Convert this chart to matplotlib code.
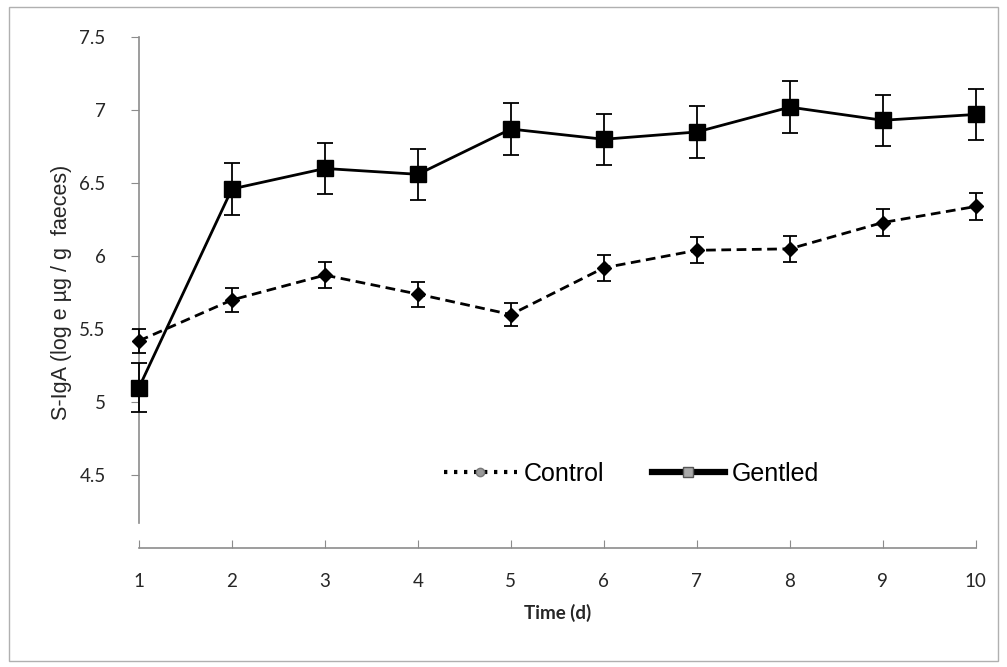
import matplotlib
matplotlib.use("Agg")
import matplotlib.pyplot as plt
from matplotlib.lines import Line2D
from matplotlib.patches import Rectangle
import numpy as np

# values
days = [1, 2, 3, 4, 5, 6, 7, 8, 9, 10]
control = [5.42, 5.70, 5.87, 5.74, 5.60, 5.92, 6.04, 6.05, 6.23, 6.34]
control_err = [0.08, 0.085, 0.09, 0.085, 0.08, 0.09, 0.09, 0.09, 0.09, 0.09]
gentled = [5.10, 6.46, 6.60, 6.56, 6.87, 6.80, 6.85, 7.02, 6.93, 6.97]
gentled_err = [0.17, 0.18, 0.175, 0.175, 0.175, 0.175, 0.175, 0.18, 0.175, 0.175]
yticks = [4.5, 5, 5.5, 6, 6.5, 7, 7.5]
ytick_labels = ["4.5", "5", "5.5", "6", "6.5", "7", "7.5"]

fig = plt.figure(figsize=(10.07, 6.67), dpi=100)
ax = fig.add_axes([0.138, 0.178, 0.831, 0.7665])

ax.errorbar(days, control, yerr=control_err, color="black", linestyle=(0, (3.5, 2)),
            linewidth=2, marker="D", markersize=7.5, capsize=5, elinewidth=1.3,
            capthick=1.3, clip_on=False, zorder=3)
ax.errorbar(days, gentled, yerr=gentled_err, color="black", linestyle="-",
            linewidth=2, marker="s", markersize=11.5, capsize=5.5, elinewidth=1.3,
            capthick=1.3, clip_on=False, zorder=4)

ax.set_xlim(1, 10)
ax.set_ylim(4.0, 7.5)
ax.set_xticks(days)
ax.set_yticks(yticks)
ax.set_yticklabels(ytick_labels)

for s in ["top", "right"]:
    ax.spines[s].set_visible(False)
for s in ["left", "bottom"]:
    ax.spines[s].set_color("#8c8c8c")
    ax.spines[s].set_linewidth(1.2)
ax.spines["left"].set_bounds(4.17, 7.5)

ax.tick_params(axis="y", direction="out", length=6, color="#8c8c8c", pad=18,
               labelsize=13.5, labelcolor="#262626")
ax.tick_params(axis="x", direction="in", length=6, color="#8c8c8c", pad=18,
               labelsize=13.5, labelcolor="#262626")
for lab in ax.get_xticklabels() + ax.get_yticklabels():
    lab.set_family("Lato")

ax.set_xlabel("Time (d)", fontsize=13.5, fontweight="bold", family="Lato",
              color="#262626", labelpad=10)
ax.set_ylabel("S-IgA (log e \u00b5g / g  faeces)", fontsize=15.5,
              family="Liberation Sans", color="#262626", labelpad=5)

h_ctrl = Line2D([], [], color="black", linestyle=(0, (0.8, 1.6)), linewidth=3,
                marker="o", markersize=6, markerfacecolor="#999999",
                markeredgecolor="#777777")
h_gent = Line2D([], [], color="black", linestyle="-", linewidth=4.5,
                marker="s", markersize=7, markerfacecolor="#aaaaaa",
                markeredgecolor="#555555")
ax.legend([h_ctrl, h_gent], ["Control", "Gentled"], ncol=2, frameon=False,
          loc="center", bbox_to_anchor=(0.589, 0.145), handlelength=2.9,
          handletextpad=0.3, columnspacing=1.9,
          prop={"family": "Liberation Sans", "size": 18})

fig.patches.append(Rectangle((0.009, 0.009), 0.982, 0.981, transform=fig.transFigure,
                             fill=False, edgecolor="#b0b0b0", linewidth=1))

fig.savefig("out.png", dpi=100)
